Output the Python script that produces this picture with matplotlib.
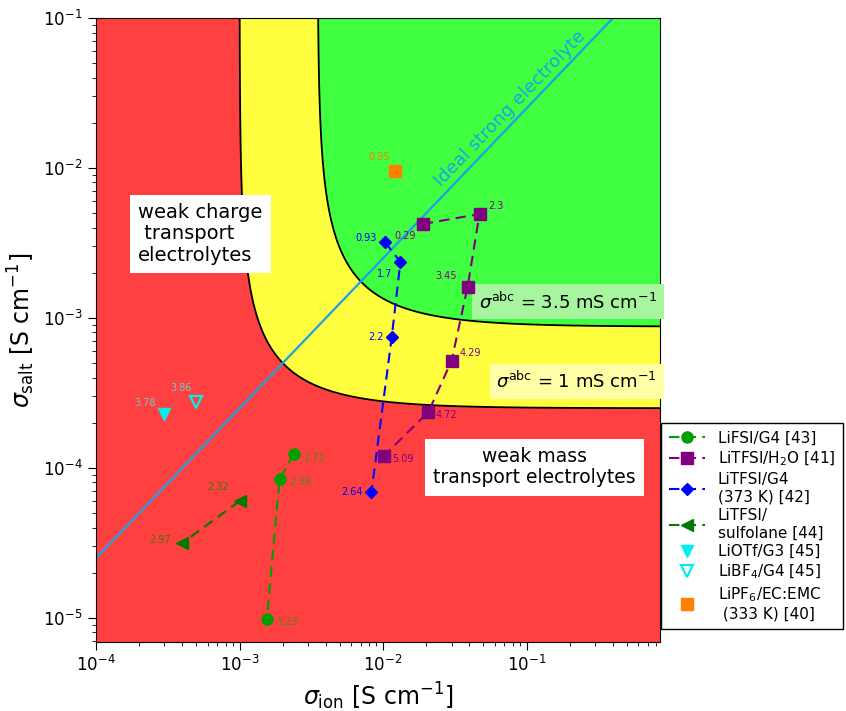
import matplotlib
matplotlib.use("Agg")
import matplotlib.pyplot as plt
import numpy as np

# --- data (S cm^-1) ---
fsi_g4_ion = [2.39e-3, 1.90e-3, 1.55e-3]
fsi_g4_salt = [1.24e-4, 8.4e-5, 9.8e-6]
fsi_g4_lab = ["1.72", "2.38", "3.23"]

tfsi_h2o_ion = [1.89e-2, 4.7e-2, 3.88e-2, 3.0e-2, 2.07e-2, 1.01e-2]
tfsi_h2o_salt = [4.23e-3, 4.93e-3, 1.61e-3, 5.17e-4, 2.36e-4, 1.2e-4]
tfsi_h2o_lab = ["0.29", "2.3", "3.45", "4.29", "4.72", "5.09"]

tfsi_g4_ion = [1.03e-2, 1.32e-2, 1.15e-2, 8.3e-3]
tfsi_g4_salt = [3.21e-3, 2.36e-3, 7.47e-4, 6.9e-5]
tfsi_g4_lab = ["0.93", "1.7", "2.2", "2.64"]

tfsi_sulf_ion = [1.0e-3, 4.0e-4]
tfsi_sulf_salt = [6.0e-5, 3.16e-5]
tfsi_sulf_lab = ["2.32", "2.97"]

liotf_ion, liotf_salt, liotf_lab = [2.97e-4], [2.29e-4], ["3.78"]
libf4_ion, libf4_salt, libf4_lab = [4.97e-4], [2.75e-4], ["3.86"]
lipf6_ion, lipf6_salt, lipf6_lab = [1.22e-2], [9.5e-3], ["0.95"]

sigma_abc_levels = [1e-3, 3.5e-3]  # S cm^-1

fig = plt.figure(figsize=(8.46, 7.11), dpi=100)
ax = fig.add_axes([96/846, 1-642/711, 564/846, 624/711])
ax.set_xscale("log")
ax.set_yscale("log")
xmin, xmax, ymin, ymax = 1e-4, 0.85, 6.9e-6, 0.1

# background regions
gx = np.logspace(-4.1, 0.1, 700)
gy = np.logspace(-5.4, -0.9, 700)
GX, GY = np.meshgrid(gx, gy)
sabc = 1.0 / (1.0 / GX + 1.0 / (4 * GY))
ax.contourf(GX, GY, sabc, levels=[0, sigma_abc_levels[0], sigma_abc_levels[1], 10],
            colors=["#ff4040", "#ffff40", "#40ff40"], zorder=0)
ax.contour(GX, GY, sabc, levels=sigma_abc_levels, colors="black", linewidths=1.3, zorder=1)

# ideal strong electrolyte
lx = np.array([1e-4, 1.0])
ax.plot(lx, lx / 4, color="#1ea0e6", lw=1.6, zorder=2)
ax.text(0.735, 0.855, "Ideal strong electrolyte", transform=ax.transAxes, rotation=46,
        color="#1ea0e6", fontsize=13, ha="center", va="center")

dash = (0, (5, 3))
series = [
    (fsi_g4_ion, fsi_g4_salt, "#00a000", "o", 8, "LiFSI/G4 [43]"),
    (tfsi_h2o_ion, tfsi_h2o_salt, "#800080", "s", 9, "LiTFSI/H$_2$O [41]"),
    (tfsi_g4_ion, tfsi_g4_salt, "#0000ff", "D", 6, "LiTFSI/G4\n(373 K) [42]"),
    (tfsi_sulf_ion, tfsi_sulf_salt, "#007a00", "<", 9, "LiTFSI/\nsulfolane [44]"),
]
for xs, ys, c, m, ms, name in series:
    ax.plot(xs, ys, ls=dash, color=c, lw=1.5, marker=m, ms=ms, label=name, zorder=4)

ax.plot(liotf_ion, liotf_salt, ls="none", marker="v", ms=8, color="#00f0f0", label="LiOTf/G3 [45]", zorder=4)
ax.plot(libf4_ion, libf4_salt, ls="none", marker="v", ms=8, mfc="none", mew=1.6,
        color="#00f0f0", label="LiBF$_4$/G4 [45]", zorder=4)
ax.plot(lipf6_ion, lipf6_salt, ls="none", marker="s", ms=8, color="#ff8000",
        label="LiPF$_6$/EC:EMC\n (333 K) [40]", zorder=4)

# point annotations (offsets in points)
offs = {
    "1.72": (7, -3), "2.38": (7, -2), "3.23": (7, -2),
    "2.32": (-8, 10), "2.97": (-8, 2),
    "0.29": (-5, -9), "2.3": (6, 6), "3.45": (-8, 8), "4.29": (6, 6), "4.72": (5, -2), "5.09": (6, -2),
    "0.93": (-6, 3), "1.7": (-6, -9), "2.2": (-6, 0), "2.64": (-6, 0),
    "3.78": (-6, 8), "3.86": (-3, 10), "0.95": (-4, 10),
}
groups = [
    (fsi_g4_ion, fsi_g4_salt, fsi_g4_lab, "#4a8a1a"),
    (tfsi_h2o_ion, tfsi_h2o_salt, tfsi_h2o_lab, "#800080"),
    (tfsi_g4_ion, tfsi_g4_salt, tfsi_g4_lab, "#0000ff"),
    (tfsi_sulf_ion, tfsi_sulf_salt, tfsi_sulf_lab, "#3a7a10"),
    (liotf_ion, liotf_salt, liotf_lab, "#70c8c8"),
    (libf4_ion, libf4_salt, libf4_lab, "#70c8c8"),
    (lipf6_ion, lipf6_salt, lipf6_lab, "#ff8000"),
]
for xs, ys, labs, tc in groups:
    for x, y, t in zip(xs, ys, labs):
        dx, dy = offs[t]
        ha = "left" if dx > 0 else "right"
        ax.annotate(t, (x, y), xytext=(dx, dy), textcoords="offset points",
                    fontsize=7, color=tc, ha=ha, va="center", zorder=5)

# region labels
ax.text(0.075, 0.654, "weak charge\n transport\nelectrolytes", transform=ax.transAxes,
        fontsize=14, ha="left", va="center", linespacing=1.15,
        bbox=dict(facecolor="white", edgecolor="none", pad=6), zorder=3)
ax.text(0.778, 0.28, "weak mass\ntransport electrolytes", transform=ax.transAxes,
        fontsize=13.5, ha="center", va="center", linespacing=1.15,
        bbox=dict(facecolor="white", edgecolor="none", pad=6), zorder=3)
ax.text(0.995, 0.545, r"$\sigma^{\mathrm{abc}}$ = 3.5 mS cm$^{-1}$", transform=ax.transAxes,
        fontsize=13, ha="right", va="center",
        bbox=dict(facecolor="#a8f5a0", edgecolor="none", pad=5), zorder=3)
ax.text(0.995, 0.418, r"$\sigma^{\mathrm{abc}}$ = 1 mS cm$^{-1}$", transform=ax.transAxes,
        fontsize=13, ha="right", va="center",
        bbox=dict(facecolor="#ffffa8", edgecolor="none", pad=5), zorder=3)

ax.set_xlim(xmin, xmax)
ax.set_ylim(ymin, ymax)
ax.tick_params(which="major", length=6, labelsize=12)
ax.tick_params(which="minor", length=3)
ax.set_xlabel(r"$\sigma_{\mathrm{ion}}$ [S cm$^{-1}$]", fontsize=17)
ax.set_ylabel(r"$\sigma_{\mathrm{salt}}$ [S cm$^{-1}$]", fontsize=17)

fig.legend(loc="upper left", bbox_to_anchor=(661/846, 1-423/711), fontsize=11,
           frameon=True, fancybox=False, edgecolor="black", framealpha=1,
           handlelength=2.4, borderpad=0.5, labelspacing=0.25, borderaxespad=0)

fig.savefig("out.png", dpi=100)
